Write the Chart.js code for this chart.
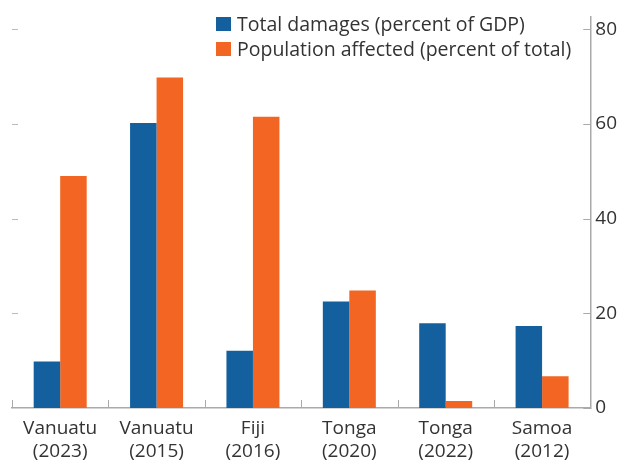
<html>
<head>
<style>
  body { margin: 0; background: #fff; }
  #wrap { width: 626px; height: 460px; }
</style>
</head>
<body>
<div id="wrap"><canvas id="chart" width="626" height="460"></canvas></div>
<script src="https://cdn.jsdelivr.net/npm/chart.js@4.4.0/dist/chart.umd.min.js"></script>
<script>
// Data
var categories = [['Vanuatu', '(2023)'], ['Vanuatu', '(2015)'], ['Fiji', '(2016)'], ['Tonga', '(2020)'], ['Tonga', '(2022)'], ['Samoa', '(2012)']];
var damages = [9.8, 60.2, 12.1, 22.5, 17.9, 17.3];
var affected = [49.0, 69.8, 61.5, 24.8, 1.5, 6.7];
var yTicks = [0, 20, 40, 60, 80];

var FONT = '"Open Sans", "Noto Sans", sans-serif';
var TEXT = '#333333';
var BLUE = '#14609F';
var ORANGE = '#F26522';

// draws tick marks pointing into the plot, plus the legend inside the chart area
var extras = {
    id: 'extras',
    afterDraw: function(chart) {
        var c = chart.ctx;
        var area = chart.chartArea;
        var x = chart.scales.x, y = chart.scales.y;
        c.save();
        c.lineWidth = 1;

        // right axis ticks (inward)
        c.strokeStyle = '#aaaaaa';
        yTicks.forEach(function(v) {
            var py = Math.round(y.getPixelForValue(v)) + 0.5;
            c.beginPath(); c.moveTo(area.right - 7, py); c.lineTo(area.right, py); c.stroke();
        });
        // left side dashes, no labels
        c.strokeStyle = '#bbbbbb';
        yTicks.slice(1).forEach(function(v) {
            var py = Math.round(y.getPixelForValue(v)) + 0.5;
            c.beginPath(); c.moveTo(area.left, py); c.lineTo(area.left + 6, py); c.stroke();
        });
        // category boundaries on the baseline
        c.strokeStyle = '#aaaaaa';
        var step = x.getPixelForValue(1) - x.getPixelForValue(0);
        for (var i = 0; i < categories.length; i++) {
            var px = Math.round(x.getPixelForValue(i) - step / 2) + 0.5;
            c.beginPath(); c.moveTo(px, area.bottom); c.lineTo(px, area.bottom - 8); c.stroke();
        }

        // legend
        c.font = '19.5px ' + FONT;
        c.textBaseline = 'middle';
        chart.data.datasets.forEach(function(ds, i) {
            var ly = 24 + i * 25;
            c.fillStyle = ds.backgroundColor;
            c.fillRect(216, ly - 7, 15, 14);
            c.fillStyle = TEXT;
            c.fillText(ds.label, 237, ly + 1);
        });
        c.restore();
    }
};

new Chart(document.getElementById('chart'), {
    type: 'bar',
    data: {
        labels: categories,
        datasets: [
            { label: 'Total damages (percent of GDP)', data: damages, backgroundColor: BLUE },
            { label: 'Population affected (percent of total)', data: affected, backgroundColor: ORANGE }
        ]
    },
    options: {
        responsive: false,
        animation: false,
        layout: { padding: { left: 12, right: 4, top: 11, bottom: 0 } },
        plugins: {
            legend: { display: false },
            tooltip: { enabled: false }
        },
        datasets: {
            bar: { categoryPercentage: 0.55, barPercentage: 1.0 }
        },
        scales: {
            x: {
                grid: { display: false, drawTicks: false },
                border: { display: true, color: '#aaaaaa', width: 1.5 },
                afterFit: function(axis) { axis.height = 52; },
                ticks: {
                    color: TEXT,
                    font: { family: FONT, size: 19, lineHeight: 1.2 },
                    padding: 9,
                    maxRotation: 0
                }
            },
            y: {
                position: 'right',
                min: 0,
                max: 82.7,
                grid: { display: false, drawTicks: false },
                border: { display: true, color: '#aaaaaa', width: 1.5 },
                afterBuildTicks: function(axis) {
                    axis.ticks = yTicks.map(function(v) { return { value: v }; });
                },
                ticks: {
                    color: TEXT,
                    font: { family: FONT, size: 19 },
                    padding: 5
                }
            }
        }
    },
    plugins: [extras]
});
</script>
</body>
</html>
